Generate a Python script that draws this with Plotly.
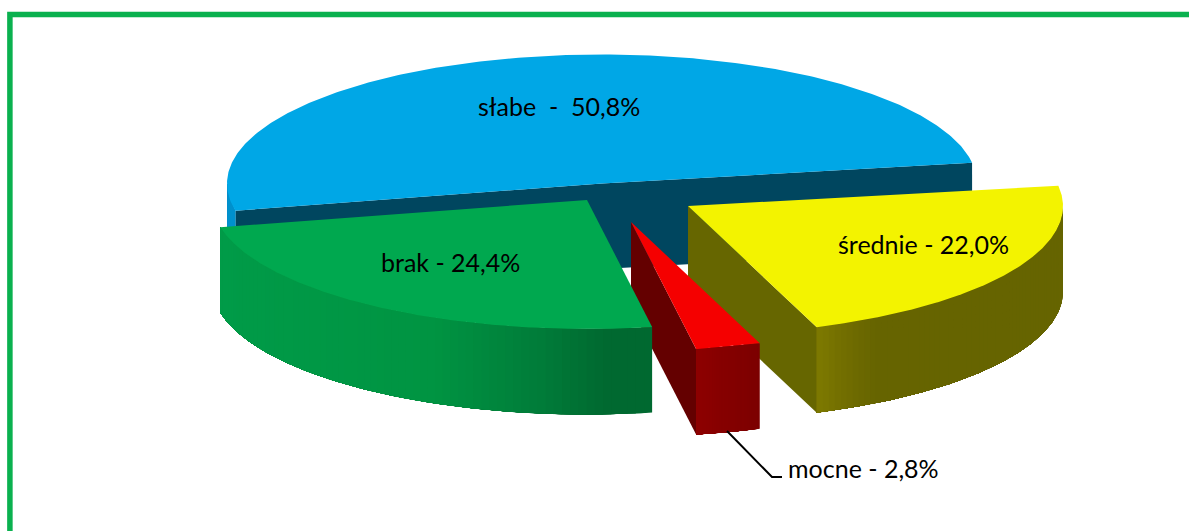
import numpy as np
import plotly.graph_objects as go

# --- data ---
categories = ["brak", "słabe", "średnie", "mocne"]
values = [24.4, 50.8, 22.0, 2.8]
label_templates = ["{} - {}%", "{}\u00a0\u00a0-\u00a0\u00a0{}%", "{} - {}%", "{} - {}%"]

# --- style / geometry of the 3-D pie ---
START_DEG = 170.0
RX, RY, DEPTH = 375.0, 129.0, 85.5
apex = {"brak": (587, 200), "słabe": (602, 183.5), "średnie": (688, 206), "mocne": (631, 222)}
top_color = {"brak": "#00A84F", "słabe": "#00A7E6", "średnie": "#F3F300", "mocne": "#F50000"}
cut_color = {"brak": "#006830", "słabe": "#00465F", "średnie": "#666600", "mocne": "#640000"}
wall_stops = {
    "brak": [(0.0, (0, 155, 72)), (0.5, (0, 148, 66)), (0.75, (0, 124, 57)), (0.9, (0, 105, 48)), (1.0, (0, 105, 48))],
    "słabe": [(0.0, (0, 146, 205)), (1.0, (0, 146, 205))],
    "średnie": [(0.0, (127, 123, 0)), (0.1, (116, 112, 0)), (0.25, (102, 100, 0)), (1.0, (102, 100, 0))],
    "mocne": [(0.0, (142, 0, 0)), (1.0, (124, 0, 0))],
}
label_pos = {"brak": (450, 262), "słabe": (559, 106), "średnie": (923, 244), "mocne": (863, 468)}
leader_x, leader_y = [727, 772, 782], [431, 477, 477]
draw_order = ["słabe", "średnie", "mocne", "brak"]

# slice angle ranges, clockwise from the top, driven by the values
spans = {}
a = START_DEG
for c, v in zip(categories, values):
    spans[c] = (a, a + v * 3.6)
    a += v * 3.6


def pt(center, deg, drop=0.0):
    t = np.radians(deg)
    return center[0] + RX * np.sin(t), center[1] - RY * np.cos(t) + drop


def poly(xs, ys, color):
    return go.Scatter(x=list(xs), y=list(ys), mode="lines", fill="toself", fillcolor=color,
                      line=dict(width=0, color=color), hoverinfo="skip", showlegend=False)


def wall_poly(center, a0, a1):
    th = np.linspace(a0, a1, max(2, int(abs(a1 - a0) * 2) + 2))
    tx, ty = pt(center, th)
    return np.r_[tx, tx[::-1]], np.r_[ty, ty[::-1] + DEPTH]


def stop_color(stops, f):
    xs = [s[0] for s in stops]
    rgb = [np.interp(f, xs, [s[1][i] for s in stops]) for i in range(3)]
    return "rgb({:.0f},{:.0f},{:.0f})".format(*rgb)


fig = go.Figure()
for name in draw_order:
    a0, a1 = spans[name]
    c = apex[name]

    # radial cut faces that turn towards the viewer
    for edge, normal in ((a0, a0 - 90), (a1, a1 + 90)):
        if np.cos(np.radians(normal)) < 0:
            ex, ey = pt(c, edge)
            fig.add_trace(poly([c[0], ex, ex, c[0]], [c[1], ey, ey + DEPTH, c[1] + DEPTH], cut_color[name]))

    # outer wall: only the front half of the rim shows; painted in overlapping strips for the shading
    ranges = []
    for k in (0, 1):
        lo, hi = max(a0, 90 + 360 * k), min(a1, 270 + 360 * k)
        if hi > lo:
            ranges.append((lo, hi))
    for lo, hi in ranges:
        x_lo, x_hi = sorted((pt(c, lo)[0], pt(c, hi)[0]))
        steps = np.linspace(lo, hi, 71)[:-1]
        for s in steps:
            f = (pt(c, s)[0] - x_lo) / max(x_hi - x_lo, 1)
            wx, wy = wall_poly(c, s, hi)
            fig.add_trace(poly(wx, wy, stop_color(wall_stops[name], f)))

    # top of the slice
    th = np.linspace(a0, a1, 300)
    tx, ty = pt(c, th)
    fig.add_trace(poly(np.r_[c[0], tx, c[0]], np.r_[c[1], ty, c[1]], top_color[name]))

# leader line of the small slice
fig.add_trace(go.Scatter(x=leader_x, y=leader_y, mode="lines", line=dict(color="black", width=2),
                         hoverinfo="skip", showlegend=False))

annotations = []
for name, v, tpl in zip(categories, values, label_templates):
    lx, ly = label_pos[name]
    annotations.append(dict(x=lx, y=ly, xref="x", yref="y", showarrow=False, xanchor="center", yanchor="middle",
                            text=tpl.format(name, f"{v:.1f}".replace(".", ",")),
                            font=dict(family="Lato, Carlito, sans-serif", size=25, color="black")))

fig.update_layout(
    width=1189, height=531, margin=dict(l=0, r=0, t=0, b=0),
    paper_bgcolor="white", plot_bgcolor="white", showlegend=False,
    xaxis=dict(range=[0, 1189], visible=False, fixedrange=True),
    yaxis=dict(range=[531, 0], visible=False, fixedrange=True),
    annotations=annotations,
    shapes=[dict(type="rect", xref="x", yref="y", x0=9.9, y0=14.5, x1=1400, y1=800,
                 line=dict(color="#0AB14F", width=5.5), layer="below")],
)
fig.write_html("out.html", config=dict(displayModeBar=False),
               post_script="document.body.style.margin='0';document.body.style.overflow='hidden';")
